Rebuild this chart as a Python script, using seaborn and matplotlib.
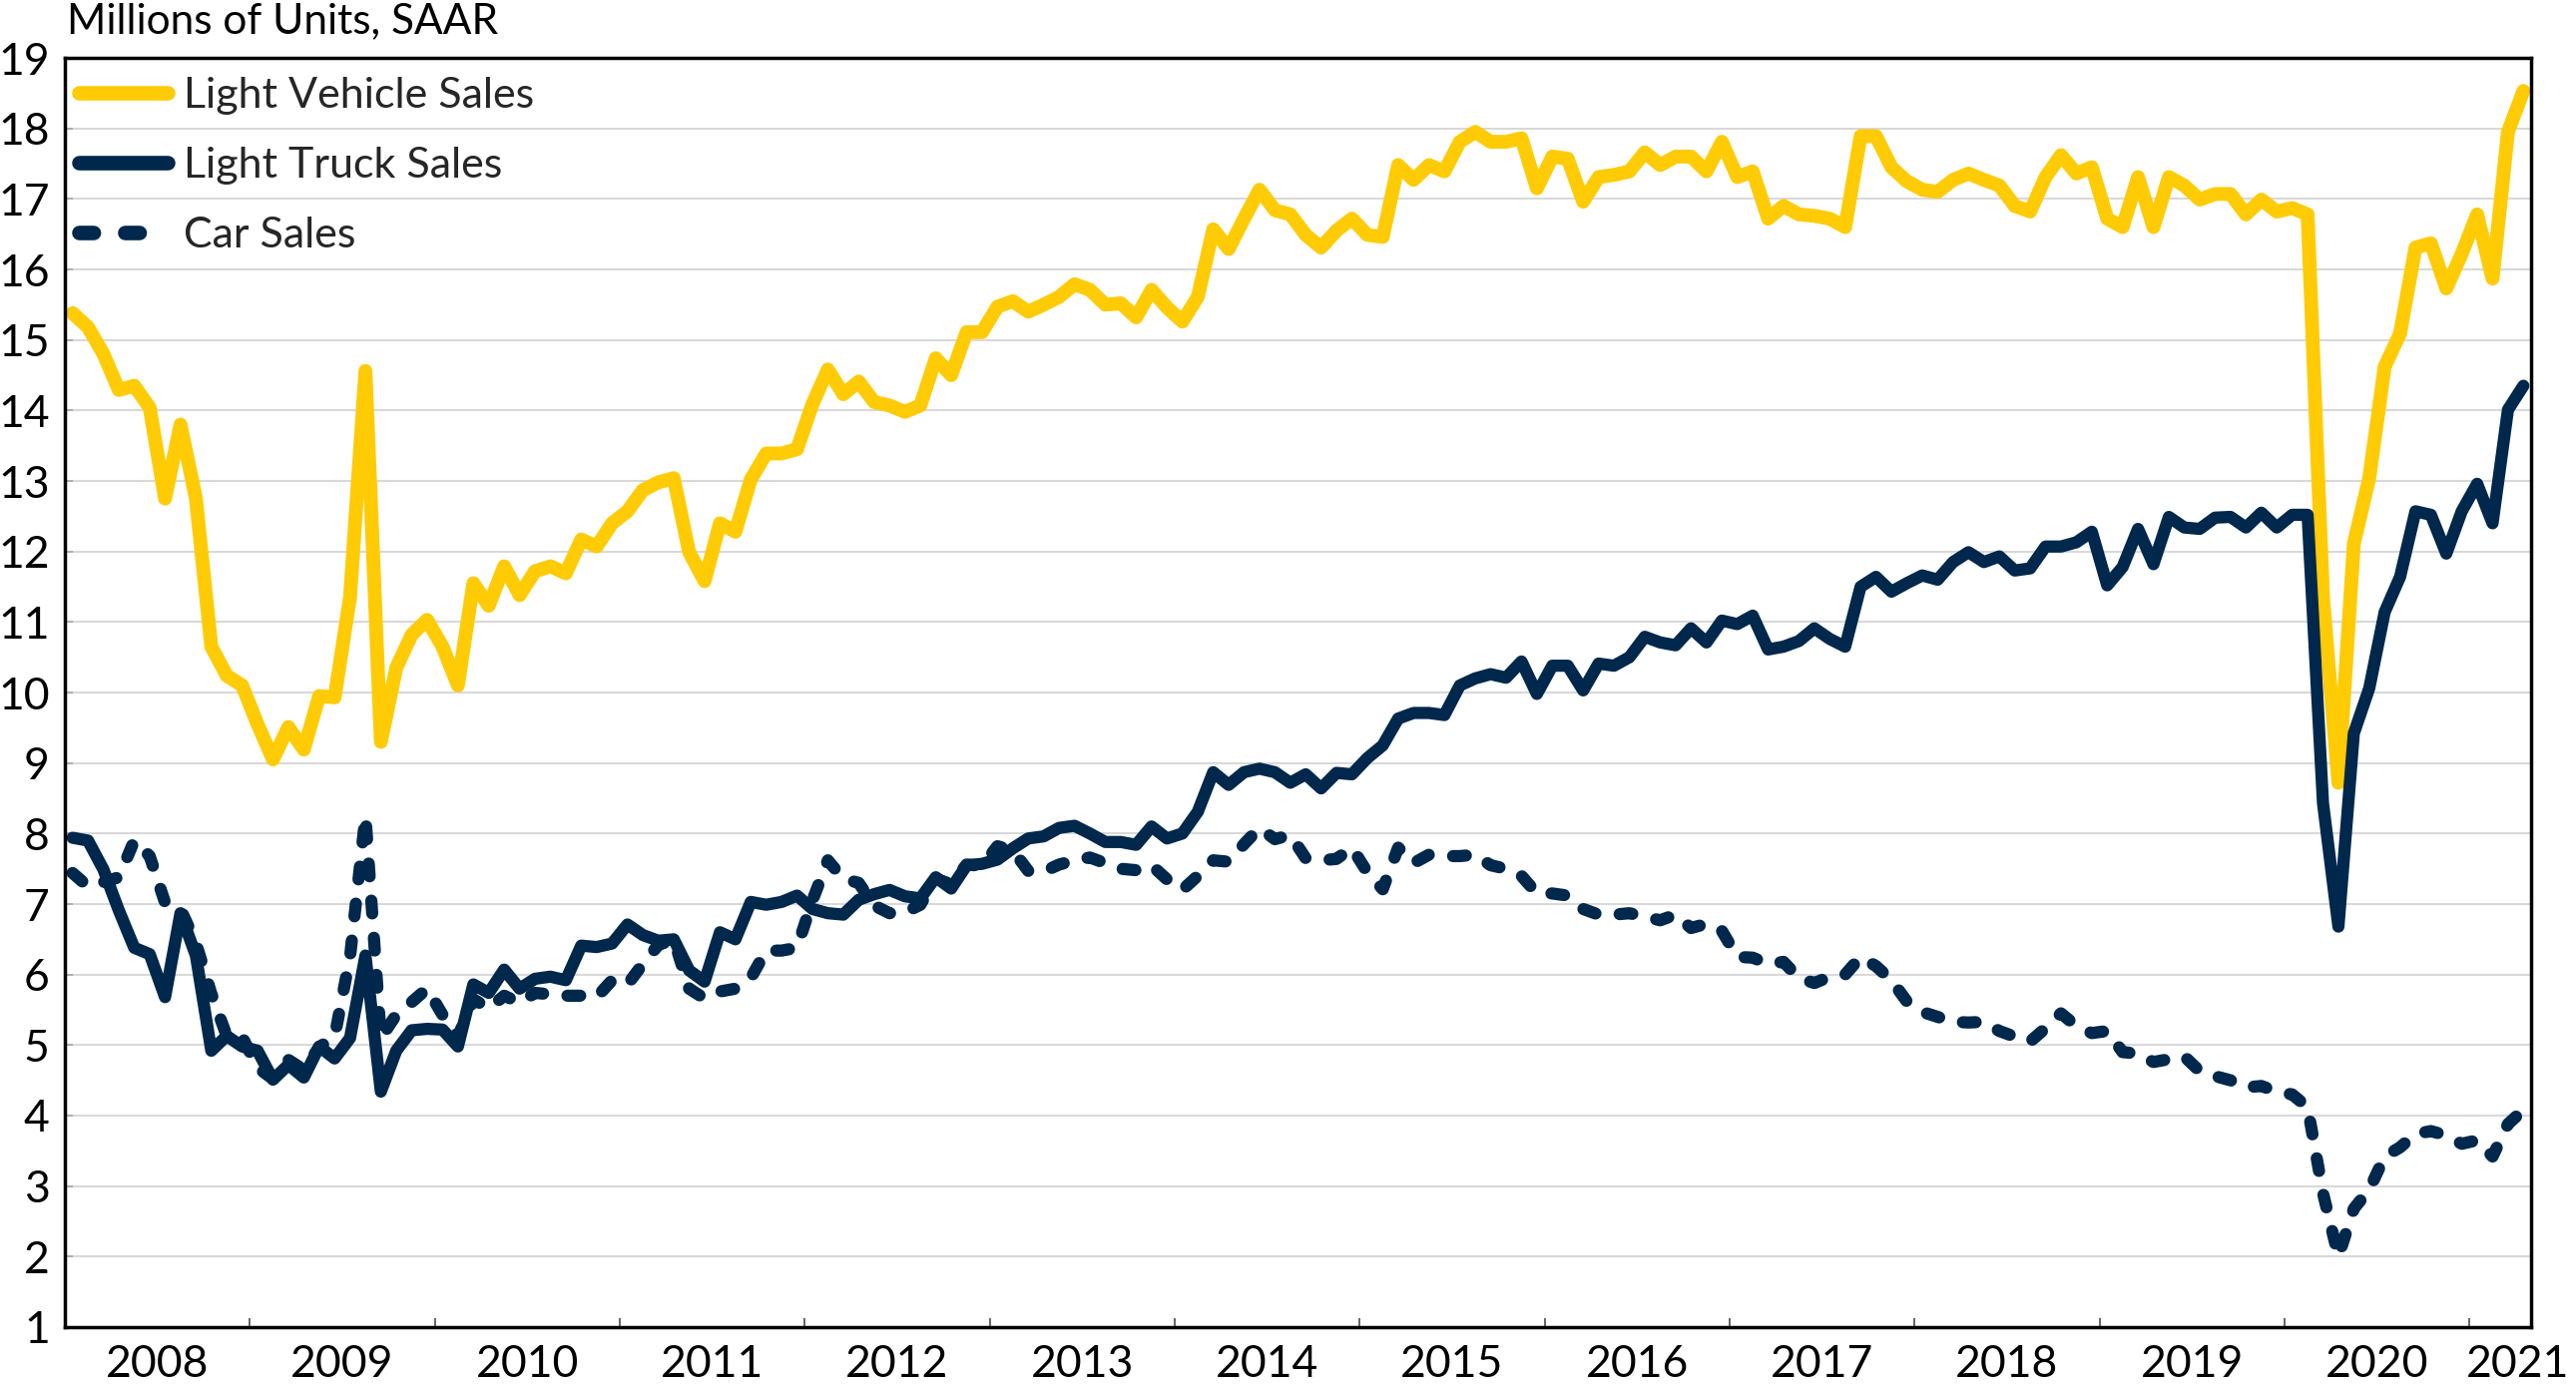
import numpy as np
import pandas as pd
import matplotlib
matplotlib.use("Agg")
import matplotlib.pyplot as plt
import seaborn as sns
from matplotlib.ticker import FixedLocator, FixedFormatter, NullFormatter

# ---------------- data (monthly, Jan 2008 - Apr 2021, millions SAAR) ----------------
first_year = 2008
year_labels = ["2008", "2009", "2010", "2011", "2012", "2013", "2014",
               "2015", "2016", "2017", "2018", "2019", "2020", "2021"]
y_ticks = list(range(1, 20))

light_vehicle = [
    15.38, 15.18, 14.80, 14.29, 14.35, 14.04, 12.75, 13.80, 12.75, 10.65, 10.24, 10.10,
    9.55, 9.05, 9.51, 9.19, 9.95, 9.93, 11.35, 14.56, 9.30, 10.35, 10.82, 11.03,
    10.65, 10.10, 11.55, 11.23, 11.79, 11.38, 11.72, 11.79, 11.69, 12.17, 12.07, 12.40,
    12.57, 12.87, 12.98, 13.04, 11.99, 11.58, 12.40, 12.28, 13.02, 13.39, 13.39, 13.45,
    14.09, 14.58, 14.23, 14.41, 14.12, 14.07, 13.98, 14.07, 14.74, 14.50, 15.11, 15.11,
    15.47, 15.55, 15.40, 15.50, 15.61, 15.79, 15.71, 15.50, 15.52, 15.32, 15.71, 15.46,
    15.26, 15.61, 16.57, 16.29, 16.72, 17.13, 16.84, 16.78, 16.49, 16.31, 16.55, 16.72,
    16.49, 16.46, 17.48, 17.27, 17.48, 17.39, 17.81, 17.95, 17.81, 17.81, 17.86, 17.15,
    17.60, 17.57, 16.96, 17.31, 17.34, 17.39, 17.66, 17.48, 17.60, 17.60, 17.39, 17.81,
    17.31, 17.39, 16.72, 16.90, 16.78, 16.76, 16.72, 16.60, 17.89, 17.89, 17.45, 17.25,
    17.13, 17.10, 17.27, 17.36, 17.27, 17.19, 16.90, 16.82, 17.31, 17.62, 17.36, 17.45,
    16.72, 16.60, 17.31, 16.60, 17.31, 17.19, 16.99, 17.07, 17.07, 16.78, 16.99, 16.82,
    16.87, 16.78, 11.35, 8.72, 12.11, 13.04, 14.62, 15.09, 16.31, 16.37, 15.73, 16.22,
    16.78, 15.87, 17.95, 18.53,
]

light_truck = [
    7.94, 7.90, 7.49, 6.91, 6.38, 6.29, 5.68, 6.87, 6.27, 4.92, 5.13, 4.98,
    4.92, 4.51, 4.72, 4.54, 4.98, 4.81, 5.10, 6.27, 4.34, 4.92, 5.21, 5.23,
    5.22, 4.98, 5.86, 5.74, 6.07, 5.80, 5.94, 5.97, 5.92, 6.41, 6.39, 6.44,
    6.71, 6.56, 6.48, 6.50, 6.06, 5.90, 6.60, 6.50, 7.03, 6.99, 7.03, 7.12,
    6.93, 6.87, 6.85, 7.06, 7.14, 7.20, 7.11, 7.08, 7.38, 7.22, 7.55, 7.57,
    7.63, 7.79, 7.93, 7.96, 8.08, 8.11, 8.00, 7.88, 7.88, 7.84, 8.10, 7.93,
    8.00, 8.31, 8.87, 8.69, 8.87, 8.92, 8.87, 8.72, 8.84, 8.64, 8.86, 8.84,
    9.07, 9.25, 9.63, 9.71, 9.71, 9.68, 10.10, 10.20, 10.26, 10.21, 10.44, 9.98,
    10.38, 10.38, 10.03, 10.41, 10.38, 10.50, 10.79, 10.71, 10.67, 10.91, 10.71, 11.02,
    10.97, 11.09, 10.61, 10.65, 10.73, 10.91, 10.76, 10.65, 11.50, 11.64, 11.43, 11.55,
    11.66, 11.60, 11.85, 11.99, 11.85, 11.93, 11.73, 11.76, 12.07, 12.07, 12.13, 12.28,
    11.52, 11.78, 12.32, 11.82, 12.49, 12.34, 12.32, 12.48, 12.49, 12.34, 12.55, 12.34,
    12.52, 12.52, 8.43, 6.68, 9.42, 10.06, 11.14, 11.64, 12.57, 12.52, 11.97, 12.57,
    12.96, 12.40, 14.01, 14.35,
]

car = [
    7.44, 7.25, 7.31, 7.38, 7.90, 7.68, 7.02, 6.93, 6.45, 5.73, 5.13, 5.12,
    4.68, 4.52, 4.79, 4.65, 4.97, 5.12, 6.25, 8.25, 5.10, 5.43, 5.61, 5.80,
    5.43, 5.12, 5.65, 5.52, 5.70, 5.60, 5.74, 5.72, 5.70, 5.70, 5.68, 5.92,
    5.86, 6.15, 6.42, 6.50, 5.80, 5.66, 5.76, 5.80, 5.95, 6.34, 6.34, 6.38,
    7.05, 7.62, 7.36, 7.30, 6.98, 6.87, 6.88, 6.99, 7.36, 7.28, 7.56, 7.54,
    7.82, 7.76, 7.47, 7.46, 7.56, 7.62, 7.66, 7.58, 7.50, 7.48, 7.55, 7.35,
    7.20, 7.40, 7.62, 7.60, 7.85, 8.08, 7.92, 7.98, 7.65, 7.62, 7.64, 7.80,
    7.45, 7.21, 7.80, 7.58, 7.70, 7.68, 7.68, 7.70, 7.55, 7.50, 7.40, 7.15,
    7.15, 7.12, 6.93, 6.85, 6.85, 6.87, 6.82, 6.77, 6.85, 6.66, 6.72, 6.62,
    6.25, 6.24, 6.15, 6.18, 5.95, 5.88, 5.97, 6.00, 6.25, 6.12, 5.92, 5.62,
    5.47, 5.40, 5.33, 5.32, 5.33, 5.20, 5.12, 5.05, 5.24, 5.45, 5.27, 5.17,
    5.20, 4.90, 4.88, 4.76, 4.80, 4.84, 4.63, 4.56, 4.50, 4.40, 4.42, 4.34,
    4.30, 4.12, 2.90, 2.00, 2.68, 2.95, 3.42, 3.55, 3.74, 3.78, 3.72, 3.60,
    3.65, 3.42, 3.88, 4.08,
]

series_names = ["Light Vehicle Sales", "Light Truck Sales", "Car Sales"]

# ---------------- styling ----------------
YELLOW = "#FFCB05"
NAVY = "#00274C"
W, H = 2581, 1390

sns.set_theme(style="white")
plt.rcParams["font.family"] = ["Lato", "DejaVu Sans"]

fig = plt.figure(figsize=(W / 100, H / 100), dpi=100)
L, R, T, B = 65, 2536, 58, 1330
ax = fig.add_axes([L / W, 1 - B / H, (R - L) / W, (B - T) / H])

n = len(light_vehicle)
df = pd.DataFrame({
    "month": np.arange(n),
    series_names[0]: light_vehicle,
    series_names[1]: light_truck,
    series_names[2]: car,
})

styles = {
    series_names[0]: dict(color=YELLOW, lw=10.0, dashes=None),
    series_names[1]: dict(color=NAVY, lw=8.8, dashes=None),
    series_names[2]: dict(color=NAVY, lw=8.8, dashes=(1.05, 2.0)),
}

handles = []
for name in series_names:
    st = styles[name]
    sns.lineplot(data=df, x="month", y=name, ax=ax, color=st["color"],
                 linewidth=st["lw"], legend=False)
    line = ax.lines[-1]
    line.set_solid_capstyle("round")
    line.set_solid_joinstyle("round")
    line.set_dash_capstyle("round")
    line.set_dash_joinstyle("round")
    if st["dashes"] is not None:
        line.set_dashes(st["dashes"])
    line.set_label(name)
    handles.append(line)

ax.set_xlim(-0.5, n - 0.5)
ax.set_ylim(1, 19)
ax.set_xlabel("")
ax.set_ylabel("")

# y axis
ax.set_yticks(y_ticks)
ax.set_yticklabels([str(v) for v in y_ticks])
ax.yaxis.grid(True, color="#d9d9d9", linewidth=1.5)
ax.xaxis.grid(False)
ax.set_axisbelow(True)
ax.tick_params(axis="y", direction="in", length=6, width=1.2, color="#a6a6a6",
               labelsize=32, pad=11, labelcolor="black", left=True)

# x axis: tick marks at year boundaries, labels centred in each year
boundaries = [12 * k - 0.5 for k in range(1, len(year_labels))]
label_pos = [12 * k + 5.5 for k in range(len(year_labels) - 1)]
label_pos.append(min(12 * (len(year_labels) - 1) + 5.5, n - 1.4))
ax.xaxis.set_major_locator(FixedLocator(boundaries))
ax.xaxis.set_major_formatter(NullFormatter())
ax.xaxis.set_minor_locator(FixedLocator(label_pos))
ax.xaxis.set_minor_formatter(FixedFormatter(year_labels))
ax.tick_params(axis="x", which="major", direction="in", length=6.5, width=1.3,
               color="#595959", bottom=True)
ax.tick_params(axis="x", which="minor", length=0, labelsize=32, pad=12,
               labelcolor="black", bottom=True)

for sp in ax.spines.values():
    sp.set_visible(True)
    sp.set_color("black")
    sp.set_linewidth(2.5)

leg = ax.legend(handles=handles, labels=series_names, loc="upper left",
                bbox_to_anchor=(14 / (R - L), 1 - 19 / (B - T)),
                frameon=False, fontsize=31, handlelength=2.07,
                handletextpad=0.37, labelspacing=0.74, borderpad=0,
                borderaxespad=0)
for i, lh in enumerate(leg.get_lines()):
    lh.set_linewidth(10.5)
    lh.set_solid_capstyle("round")
    lh.set_dash_capstyle("round")
    if i == 2:
        lh.set_dashes((1.0, 2.15))

fig.text(67 / W, 1 - 33 / H, "Millions of Units, SAAR", fontsize=30.5,
         ha="left", va="baseline", color="black")

fig.savefig("out.png", dpi=100)
